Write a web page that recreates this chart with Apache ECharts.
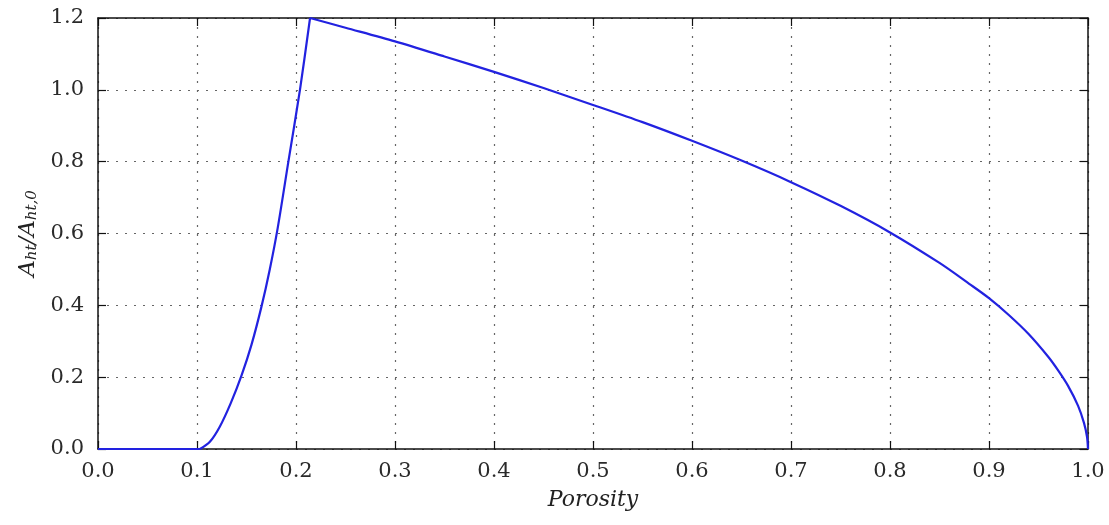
<!DOCTYPE html>
<html>
<head>
<meta charset="utf-8">
<title>Porosity vs heat-transfer area</title>
<script src="https://cdn.jsdelivr.net/npm/echarts@6/dist/echarts.min.js"></script>
<style>
  html, body { margin: 0; padding: 0; background: #fff; }
  #chart { width: 1109px; height: 525px; }
</style>
</head>
<body>
<div id="chart"></div>
<script>
// Normalised heat-transfer area A_ht / A_ht,0 against porosity
const flatPart = [[0.0, 0.0], [0.103, 0.0]];
const risingPart = [
  [0.103, 0.0], [0.113, 0.02], [0.123, 0.062], [0.134, 0.127], [0.145, 0.205],
  [0.155, 0.29], [0.165, 0.395], [0.1735, 0.5], [0.1815, 0.615], [0.1923, 0.8],
  [0.204, 1.0], [0.2142, 1.2]
];
const fallingPart = [
  [0.2142, 1.2], [0.25, 1.173], [0.3, 1.135], [0.35, 1.093], [0.4, 1.05],
  [0.45, 1.005], [0.5, 0.958], [0.55, 0.91], [0.6, 0.858], [0.65, 0.803],
  [0.7, 0.743], [0.75, 0.677], [0.8, 0.603], [0.85, 0.518], [0.88, 0.46],
  [0.9, 0.42], [0.92, 0.373], [0.94, 0.32], [0.96, 0.256], [0.97, 0.218],
  [0.98, 0.175], [0.99, 0.12], [0.996, 0.072], [0.999, 0.034], [1.0, 0.0]
];
const xRange = { min: 0, max: 1, step: 0.1 };
const yRange = { min: 0, max: 1.2, step: 0.2 };
const xTitle = 'Porosity';

const labelFont = { fontFamily: 'DejaVu Serif', fontSize: 21, color: '#2a2a2a' };
const lineColor = '#2222e0';
const frame = { show: true, onZero: false, lineStyle: { color: '#111', width: 1.5 } };
const gridLine = { show: true, lineStyle: { color: '#666', width: 1.2, type: [2, 7] } };
const inTicks = { show: true, inside: true, length: 8, lineStyle: { color: '#111', width: 1.2 } };

const chart = echarts.init(document.getElementById('chart'), null, { renderer: 'canvas' });

function curve(data, smooth) {
  return {
    type: 'line', data: data, showSymbol: false, smooth: smooth,
    lineStyle: { color: lineColor, width: 2.2 }, clip: false, z: 5, animation: false
  };
}

chart.setOption({
  animation: false,
  backgroundColor: '#fff',
  grid: { left: 98, right: 21, top: 18, bottom: 76 },
  xAxis: [
    {
      type: 'value', min: xRange.min, max: xRange.max, interval: xRange.step,
      axisLine: frame, axisTick: inTicks, splitLine: gridLine,
      axisLabel: Object.assign({ margin: 12, formatter: v => v.toFixed(1) }, labelFont),
      name: xTitle, nameLocation: 'middle', nameGap: 40,
      nameTextStyle: { fontFamily: 'DejaVu Serif', fontStyle: 'italic', fontSize: 22, color: '#222' }
    },
    {
      type: 'value', position: 'top', min: xRange.min, max: xRange.max, interval: xRange.step,
      axisLine: frame, axisTick: inTicks, splitLine: { show: false }, axisLabel: { show: false }
    }
  ],
  yAxis: [
    {
      type: 'value', min: yRange.min, max: yRange.max, interval: yRange.step,
      axisLine: frame, axisTick: inTicks, splitLine: gridLine,
      axisLabel: Object.assign({ margin: 14, formatter: v => v.toFixed(1) }, labelFont),
      name: '{m|A}{s|ht}{m|/A}{s|ht,0}', nameLocation: 'middle', nameGap: 56, nameRotate: 90,
      nameTextStyle: {
        rich: {
          m: { fontFamily: 'DejaVu Serif', fontStyle: 'italic', fontSize: 23, color: '#222',
               lineHeight: 28, verticalAlign: 'bottom' },
          s: { fontFamily: 'DejaVu Serif', fontStyle: 'italic', fontSize: 15, color: '#222',
               lineHeight: 15, verticalAlign: 'bottom' }
        }
      }
    },
    {
      type: 'value', position: 'right', min: yRange.min, max: yRange.max, interval: yRange.step,
      axisLine: frame, axisTick: inTicks, splitLine: { show: false }, axisLabel: { show: false }
    }
  ],
  series: [
    curve(flatPart, false),
    curve(risingPart, 0.3),
    curve(fallingPart, 0.3)
  ]
});
</script>
</body>
</html>
